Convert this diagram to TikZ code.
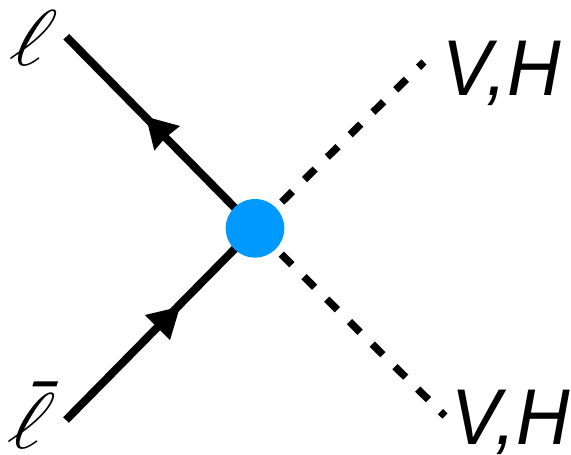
\documentclass[tikz,border=0pt]{standalone}
\usepackage{fontspec}
\setsansfont{Liberation Sans}
\definecolor{vtxblue}{RGB}{0,153,255}
\tikzset{
  px/.style={x=1pt,y=-1pt},
  fermion/.style={line width=8pt,black},
  scalartop/.style={line width=7.4pt,black,dash pattern=on 15pt off 17pt,dash phase=24pt},
  scalarbot/.style={line width=7.4pt,black,dash pattern=on 15pt off 17pt,dash phase=24.7pt},
  tipmark/.style={fill=black,draw=none},
  lbl/.style={inner sep=0pt,anchor=base west,xscale=1.06,yscale=1.13,font=\sffamily\itshape\fontsize{70}{70}\selectfont,text=black},
  lep/.style={inner sep=0pt,anchor=base,xscale=8.3,yscale=7.9,xslant=0.3,text=black},
  vtx/.style={circle,fill=vtxblue,draw=none,minimum size=58.6pt,inner sep=0pt}
}
\begin{document}
\begin{tikzpicture}[px]
\useasboundingbox (0,0) rectangle (571,455);
\coordinate (lt) at (66.3,36.7);
\coordinate (lb) at (66,420);
\coordinate (rt) at (424,62);
\coordinate (rb) at (445,416);
\coordinate (c) at (255,228.3);
\draw[fermion] (lt) -- (c);
\draw[fermion] (lb) -- (c);
\node[vtx] (v) at (c) {};
\draw[scalartop] (v) -- (rt);
\draw[scalarbot] (v) -- (rb);
\fill[tipmark] (146,116.7) -- (180,126) -- (165,138) -- (154.3,150.7) -- cycle;
\fill[tipmark] (180,306.7) -- (145,315) -- (158.3,328.3) -- (170,340) -- cycle;
\node[lep] (l1) at (25,65) {$\ell$};
\node[lep] (l2) at (23,448) {$\ell$\llap{\raisebox{7.8pt}{\rule{2.9pt}{.625pt}\kern0.4pt}}};
\node[lbl] (t1) at (442.5,95) {V,H};
\node[lbl] (t2) at (451.5,444.5) {V,H};
\end{tikzpicture}
\end{document}
